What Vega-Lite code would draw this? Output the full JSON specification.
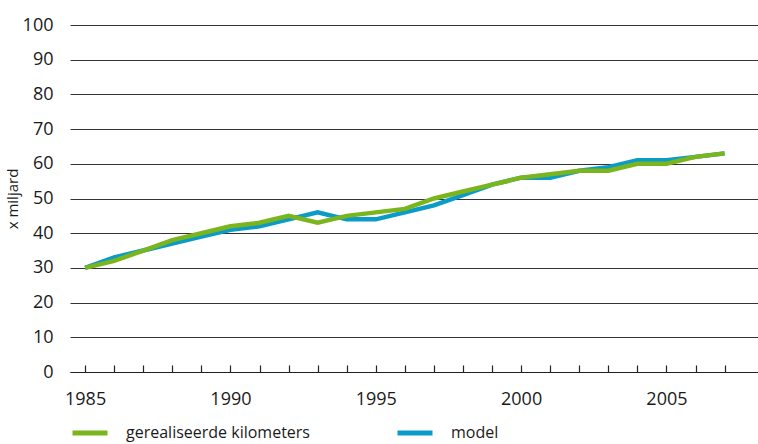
{
  "$schema": "https://vega.github.io/schema/vega-lite/v6.json",
  "width": 688,
  "height": 347,
  "autosize": "none",
  "padding": {"left": 70, "top": 25, "right": 0, "bottom": 72},
  "config": {
    "font": "Open Sans",
    "view": {"stroke": null},
    "axis": {"labelColor": "#1a1a1a", "titleColor": "#1a1a1a"}
  },
  "data": {
    "values": [
      {"year": 1985, "series": "gerealiseerde kilometers", "value": 30},
      {"year": 1986, "series": "gerealiseerde kilometers", "value": 32},
      {"year": 1987, "series": "gerealiseerde kilometers", "value": 35},
      {"year": 1988, "series": "gerealiseerde kilometers", "value": 38},
      {"year": 1989, "series": "gerealiseerde kilometers", "value": 40},
      {"year": 1990, "series": "gerealiseerde kilometers", "value": 42},
      {"year": 1991, "series": "gerealiseerde kilometers", "value": 43},
      {"year": 1992, "series": "gerealiseerde kilometers", "value": 45},
      {"year": 1993, "series": "gerealiseerde kilometers", "value": 43},
      {"year": 1994, "series": "gerealiseerde kilometers", "value": 45},
      {"year": 1995, "series": "gerealiseerde kilometers", "value": 46},
      {"year": 1996, "series": "gerealiseerde kilometers", "value": 47},
      {"year": 1997, "series": "gerealiseerde kilometers", "value": 50},
      {"year": 1998, "series": "gerealiseerde kilometers", "value": 52},
      {"year": 1999, "series": "gerealiseerde kilometers", "value": 54},
      {"year": 2000, "series": "gerealiseerde kilometers", "value": 56},
      {"year": 2001, "series": "gerealiseerde kilometers", "value": 57},
      {"year": 2002, "series": "gerealiseerde kilometers", "value": 58},
      {"year": 2003, "series": "gerealiseerde kilometers", "value": 58},
      {"year": 2004, "series": "gerealiseerde kilometers", "value": 60},
      {"year": 2005, "series": "gerealiseerde kilometers", "value": 60},
      {"year": 2006, "series": "gerealiseerde kilometers", "value": 62},
      {"year": 2007, "series": "gerealiseerde kilometers", "value": 63},
      {"year": 1985, "series": "model", "value": 30},
      {"year": 1986, "series": "model", "value": 33},
      {"year": 1987, "series": "model", "value": 35},
      {"year": 1988, "series": "model", "value": 37},
      {"year": 1989, "series": "model", "value": 39},
      {"year": 1990, "series": "model", "value": 41},
      {"year": 1991, "series": "model", "value": 42},
      {"year": 1992, "series": "model", "value": 44},
      {"year": 1993, "series": "model", "value": 46},
      {"year": 1994, "series": "model", "value": 44},
      {"year": 1995, "series": "model", "value": 44},
      {"year": 1996, "series": "model", "value": 46},
      {"year": 1997, "series": "model", "value": 48},
      {"year": 1998, "series": "model", "value": 51},
      {"year": 1999, "series": "model", "value": 54},
      {"year": 2000, "series": "model", "value": 56},
      {"year": 2001, "series": "model", "value": 56},
      {"year": 2002, "series": "model", "value": 58},
      {"year": 2003, "series": "model", "value": 59},
      {"year": 2004, "series": "model", "value": 61},
      {"year": 2005, "series": "model", "value": 61},
      {"year": 2006, "series": "model", "value": 62},
      {"year": 2007, "series": "model", "value": 63}
    ]
  },
  "encoding": {
    "x": {
      "field": "year",
      "type": "quantitative",
      "scale": {"domain": [1984.48, 2008.15], "nice": false, "zero": false},
      "axis": {
        "title": null,
        "values": [1985,1986,1987,1988,1989,1990,1991,1992,1993,1994,1995,1996,1997,1998,1999,2000,2001,2002,2003,2004,2005,2006,2007],
        "labelExpr": "datum.value % 5 === 0 ? datum.value : ''",
        "format": "d",
        "grid": false,
        "domainColor": "#222222",
        "domainWidth": 1.2,
        "tickColor": "#222222",
        "tickSize": -7,
        "tickWidth": 1.2,
        "labelFontSize": 18,
        "labelPadding": 25
      }
    },
    "y": {
      "field": "value",
      "type": "quantitative",
      "scale": {"domain": [0, 100], "nice": false},
      "axis": {
        "title": "x miljard",
        "titleFontSize": 15,
        "titleFontWeight": "normal",
        "titlePadding": 2,
        "values": [0,10,20,30,40,50,60,70,80,90,100],
        "grid": true,
        "gridColor": "#333333",
        "gridWidth": 1.2,
        "domain": false,
        "ticks": false,
        "labelFontSize": 18,
        "labelPadding": 17
      }
    },
    "color": {
      "field": "series",
      "type": "nominal",
      "scale": {"domain": ["gerealiseerde kilometers", "model"], "range": ["#7ab51d", "#0a9bc9"]},
      "legend": {
        "title": null,
        "orient": "none",
        "legendX": 0,
        "legendY": 388,
        "direction": "horizontal",
        "columns": 2,
        "columnPadding": 77,
        "symbolType": "stroke",
        "symbolSize": 1225,
        "symbolStrokeWidth": 5,
        "labelFontSize": 16,
        "labelLimit": 400,
        "labelOffset": 16,
        "labelColor": "#1a1a1a"
      }
    }
  },
  "layer": [
    {
      "transform": [{"filter": "datum.series === 'model'"}],
      "mark": {"type": "line", "strokeWidth": 4.5}
    },
    {
      "transform": [{"filter": "datum.series === 'gerealiseerde kilometers'"}],
      "mark": {"type": "line", "strokeWidth": 4.5}
    }
  ]
}
